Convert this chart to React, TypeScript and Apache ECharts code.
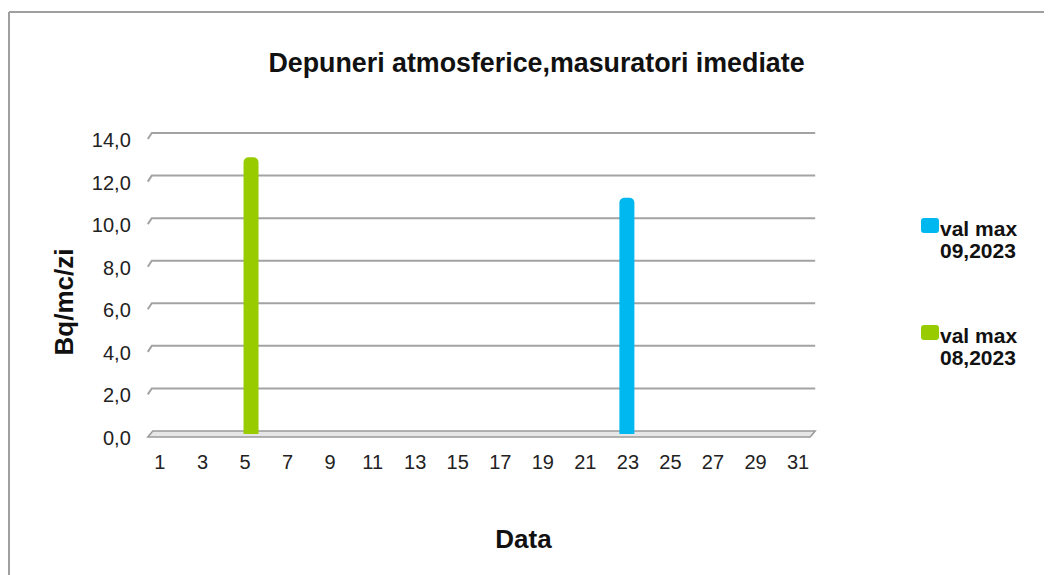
import React, { useEffect, useRef } from "react";
import * as echarts from "echarts";

const titleText = "Depuneri atmosferice,masuratori imediate";
const yAxisTitle = "Bq/mc/zi";
const xAxisTitle = "Data";
const categories = ["1","2","3","4","5","6","7","8","9","10","11","12","13","14","15","16","17","18","19","20","21","22","23","24","25","26","27","28","29","30","31"];
const seriesSep2023 = [0,0,0,0,0,0,0,0,0,0,0,0,0,0,0,0,0,0,0,0,0,0,11.1,0,0,0,0,0,0,0,0];
const seriesAug2023 = [0,0,0,0,13.0,0,0,0,0,0,0,0,0,0,0,0,0,0,0,0,0,0,0,0,0,0,0,0,0,0,0];
const seriesNames = ["val max\n09,2023", "val max\n08,2023"];
const seriesColors = ["#00B8F0", "#99CC00"];
const yTicks = [0, 2, 4, 6, 8, 10, 12, 14];

const FONT = "'Liberation Sans', Arial, sans-serif";

export default function App() {
  const ref = useRef<HTMLDivElement>(null);
  useEffect(() => {
    if (!ref.current) return;
    const chart = echarts.init(ref.current, undefined, { renderer: "svg" });
    const legendGraphics: any[] = [];
    seriesNames.forEach((name, i) => {
      const top = 210 + i * 107;
      legendGraphics.push({
        type: "rect",
        shape: { x: 913, y: top, width: 18, height: 15, r: 3 },
        style: { fill: seriesColors[i] },
      });
      legendGraphics.push({
        type: "text",
        x: 932,
        y: top - 1,
        style: {
          text: name,
          font: `bold 21px ${FONT}`,
          lineHeight: 22,
          fill: "#111",
          textAlign: "left",
          textVerticalAlign: "top",
        },
      });
    });
    chart.setOption({
      animation: false,
      backgroundColor: "#ffffff",
      grid: { left: 143.8, right: 240.8, top: 128, bottom: 141 },
      xAxis: {
        type: "category",
        data: categories,
        axisLine: { show: false },
        axisTick: { show: false },
        splitLine: { show: false },
        axisLabel: {
          interval: 1,
          margin: 18,
          fontFamily: FONT,
          fontSize: 20,
          color: "#222",
          padding: [0, 5, 0, 0],
        },
      },
      yAxis: {
        type: "value",
        min: 0,
        max: 14,
        interval: 2,
        axisLine: { show: false },
        axisTick: { show: false },
        splitLine: { show: false },
        axisLabel: {
          margin: 21,
          fontFamily: FONT,
          fontSize: 20,
          color: "#222",
          formatter: (v: number) => "{a|" + v.toFixed(1).replace(".", ",") + "}",
          rich: {
            a: {
              fontFamily: FONT,
              fontSize: 20,
              color: "#222",
              padding: [8, 0, 0, 0],
            },
          },
        },
      },
      graphic: [
        { type: "line", shape: { x1: 1, y1: 4, x2: 1044, y2: 4 }, style: { stroke: "#a0a0a0", lineWidth: 2 } },
        { type: "line", shape: { x1: 1, y1: 4, x2: 1, y2: 567 }, style: { stroke: "#a0a0a0", lineWidth: 2 } },
        {
          type: "text",
          x: 528.5,
          y: 55,
          style: {
            text: titleText,
            font: `bold 26.8px ${FONT}`,
            fill: "#111",
            textAlign: "center",
            textVerticalAlign: "middle",
          },
        },
        {
          type: "text",
          x: 56,
          y: 294,
          rotation: Math.PI / 2,
          style: {
            text: yAxisTitle,
            font: `bold 26px ${FONT}`,
            fill: "#111",
            textAlign: "center",
            textVerticalAlign: "middle",
          },
        },
        {
          type: "text",
          x: 515.5,
          y: 531,
          style: {
            text: xAxisTitle,
            font: `bold 26px ${FONT}`,
            fill: "#111",
            textAlign: "center",
            textVerticalAlign: "middle",
          },
        },
        ...legendGraphics,
      ],
      series: [
        {
          type: "custom",
          silent: true,
          clip: false,
          z: 1,
          data: yTicks.map((v) => [0, v]),
          renderItem: (params: any, api: any) => {
            const cs = params.coordSys;
            const v = api.value(1);
            const y = api.coord([0, v])[1];
            const left = cs.x;
            const right = cs.x + cs.width;
            if (v === 0) {
              return {
                type: "polygon",
                shape: { points: [[left - 4, y + 3], [left + 1, y - 3], [right + 4, y - 3], [right - 1, y + 3]] },
                style: { fill: "#e6e6e6", stroke: "#9a9a9a", lineWidth: 1.5 },
              };
            }
            return {
              type: "polyline",
              shape: { points: [[left - 4, y + 3], [left, y - 3], [right + 4, y - 3]] },
              style: { stroke: "#a3a3a3", lineWidth: 2, fill: "none" },
            };
          },
        },
        {
          name: seriesNames[0],
          type: "bar",
          z: 2,
          data: seriesSep2023,
          barWidth: 15,
          barGap: "-53.3%",
          itemStyle: { color: seriesColors[0], borderRadius: [5, 5, 0, 0] },
        },
        {
          name: seriesNames[1],
          type: "bar",
          z: 2,
          data: seriesAug2023,
          barWidth: 15,
          barGap: "-53.3%",
          itemStyle: { color: seriesColors[1], borderRadius: [5, 5, 0, 0] },
        },
      ],
    });
    return () => chart.dispose();
  }, []);
  return <div ref={ref} style={{ width: 1044, height: 567 }} />;
}
